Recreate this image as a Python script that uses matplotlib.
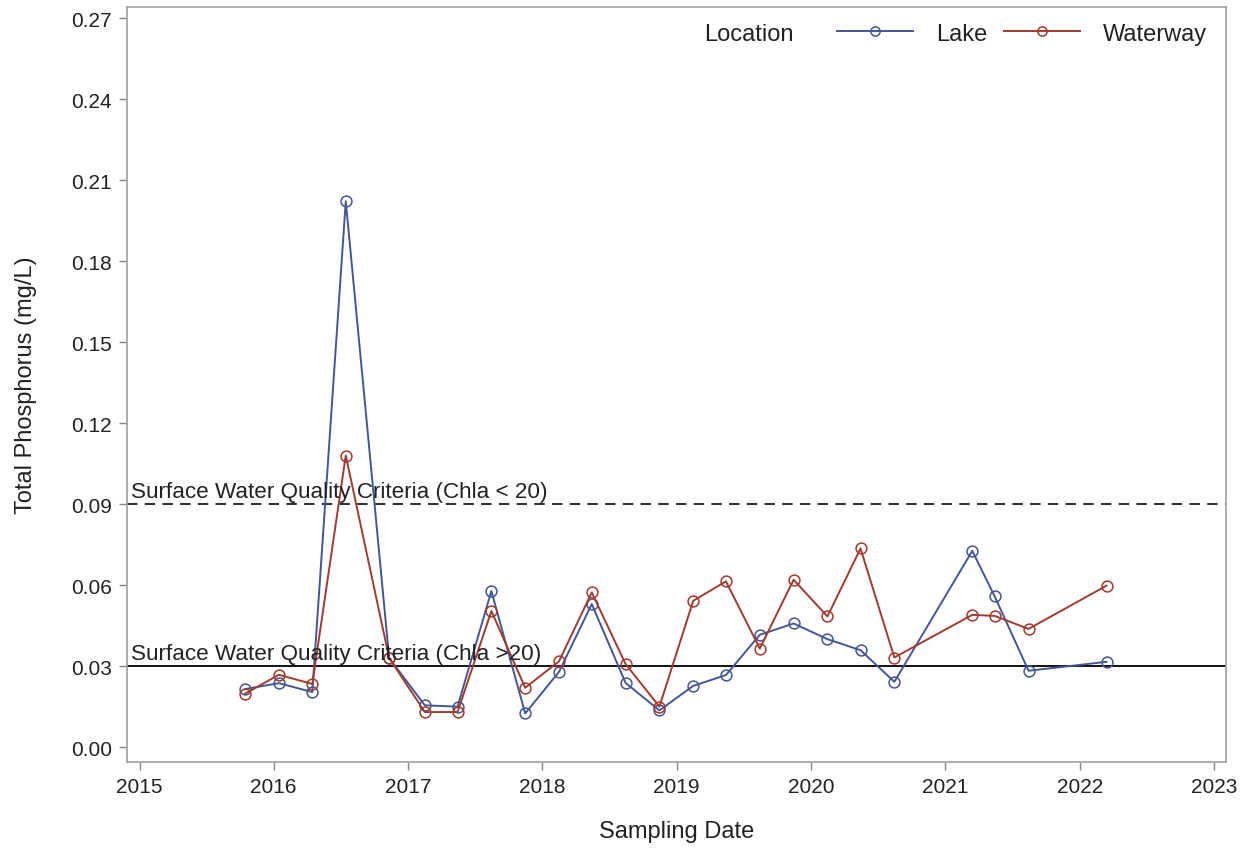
import pandas as pd
import numpy as np
import matplotlib
matplotlib.use("Agg")
import matplotlib.pyplot as plt
import matplotlib.dates as mdates

plt.rcParams["font.family"] = ["Liberation Sans", "DejaVu Sans"]

# dados
datas = ["2015-10-15", "2016-01-15", "2016-04-15", "2016-07-15", "2016-11-10",
         "2017-02-15", "2017-05-15", "2017-08-15", "2017-11-15", "2018-02-15",
         "2018-05-15", "2018-08-15", "2018-11-15", "2019-02-15", "2019-05-15",
         "2019-08-15", "2019-11-15", "2020-02-15", "2020-05-15", "2020-08-15",
         "2021-03-15", "2021-05-15", "2021-08-15", "2022-03-15"]
lake = [0.0215, 0.0237, 0.0204, 0.2022, 0.0330, 0.0155, 0.0150, 0.0578, 0.0125,
        0.0279, 0.0530, 0.0238, 0.0136, 0.0227, 0.0267, 0.0416, 0.0458, 0.0400,
        0.0359, 0.0242, 0.0727, 0.0558, 0.0283, 0.0316]
waterway = [0.0198, 0.0268, 0.0234, 0.1080, 0.0330, 0.0130, 0.0130, 0.0504, 0.0220,
            0.0318, 0.0573, 0.0308, 0.0150, 0.0542, 0.0614, 0.0365, 0.0620, 0.0484,
            0.0736, 0.0332, 0.0490, 0.0486, 0.0438, 0.0598]
criterio_alto = 0.09
criterio_baixo = 0.03

df = pd.DataFrame({"data": pd.to_datetime(datas), "Lake": lake, "Waterway": waterway})

azul = "#445694"
vermelho = "#A23A2E"
texto = "#222222"

fig = plt.figure(figsize=(12.5, 8.53), dpi=100)
ax = fig.add_axes([0.1016, 0.1055, 0.8792, 0.8851])

l1, = ax.plot(df["data"], df["Lake"], color=azul, lw=1.4, marker="o", ms=7.8,
              mfc="none", mec=azul, mew=1.1, label="Lake")
l2, = ax.plot(df["data"], df["Waterway"], color=vermelho, lw=1.4, marker="o", ms=7.8,
              mfc="none", mec=vermelho, mew=1.1, label="Waterway")

ax.axhline(criterio_alto, color="#333333", lw=1.5, ls=(0, (5, 3.5)), zorder=1)
ax.axhline(criterio_baixo, color="black", lw=1.3, zorder=1)
ax.text(pd.Timestamp("2014-12-08"), criterio_alto + 0.0009,
        "Surface Water Quality Criteria (Chla < 20)", fontsize=16.2, color=texto, va="bottom")
ax.text(pd.Timestamp("2014-12-08"), criterio_baixo + 0.0009,
        "Surface Water Quality Criteria (Chla >20)", fontsize=16.2, color=texto, va="bottom")

ax.set_ylim(-0.0055, 0.2741)
ax.set_yticks(np.arange(0, 0.271, 0.03))
ax.yaxis.set_major_formatter(plt.FuncFormatter(lambda v, p: f"{v:.2f}"))
ax.set_xlim(pd.Timestamp("2014-11-28"), pd.Timestamp("2023-02-03"))
ax.xaxis.set_major_locator(mdates.YearLocator())
ax.xaxis.set_major_formatter(mdates.DateFormatter("%Y"))

for s in ax.spines.values():
    s.set_color("#a0a0a0")
    s.set_linewidth(1.2)
ax.tick_params(axis="both", labelsize=15, labelcolor=texto, length=6, width=1, pad=5,
               color="#888888")

ax.set_xlabel("Sampling Date", fontsize=17, color=texto, labelpad=17)
ax.set_ylabel("Total Phosphorus (mg/L)", fontsize=17, color=texto, labelpad=24)

leg = ax.legend(handles=[l1, l2], loc="upper right", ncol=2, frameon=False,
                fontsize=17, handlelength=3.2, columnspacing=0.7, handletextpad=1.0,
                markerscale=0.85, borderaxespad=0.2, bbox_to_anchor=(0.996, 0.998))
for t in leg.get_texts():
    t.set_color(texto)

# titulo da legenda a esquerda, alinhado com os itens
fig.canvas.draw()
bb = leg.get_texts()[0].get_window_extent()
yc = ax.transAxes.inverted().transform((0, (bb.y0 + bb.y1) / 2))[1]
ax.text(0.525, yc, "Location", transform=ax.transAxes, fontsize=17, color=texto, va="center")

fig.savefig("out.png", dpi=100)
